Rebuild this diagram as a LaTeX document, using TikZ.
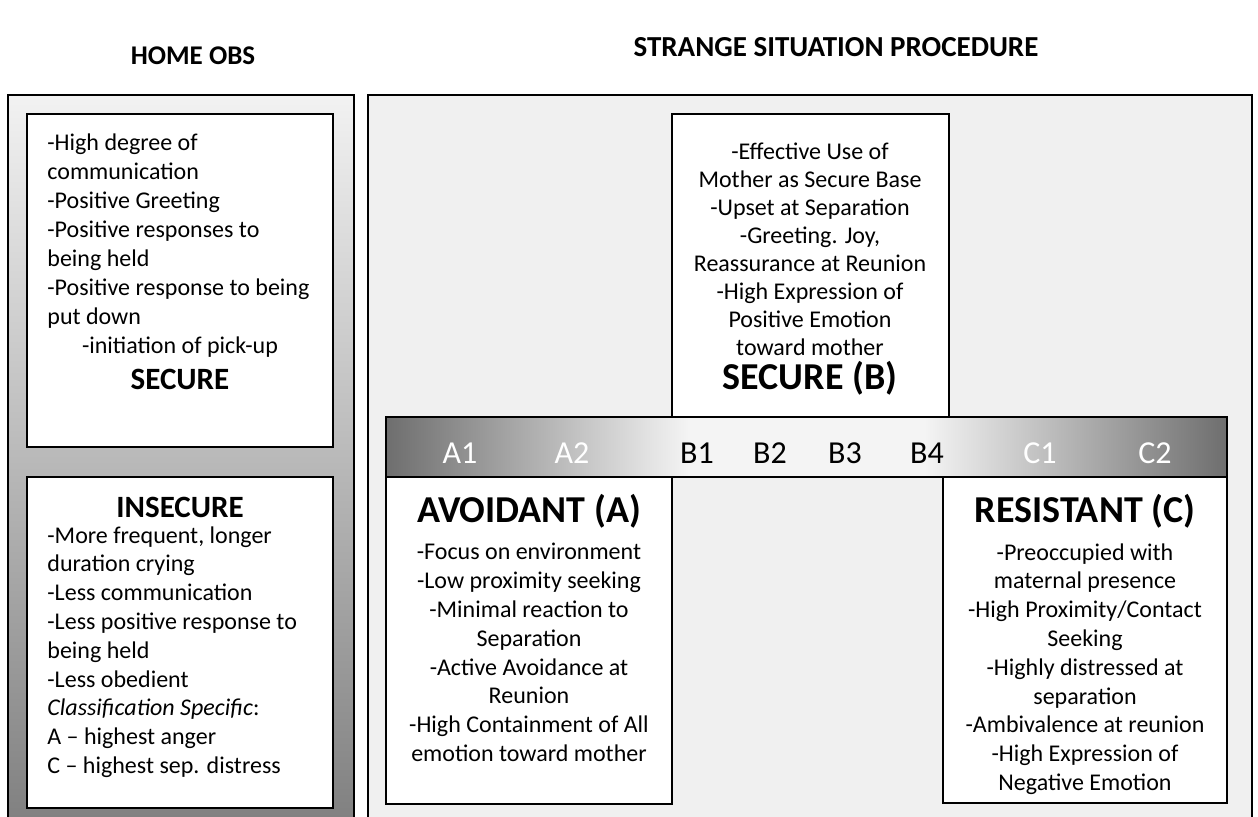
\documentclass[tikz,border=0pt]{standalone}
\usepackage{fontspec}
\setmainfont{Carlito}
\usepackage{xcolor}
\usetikzlibrary{positioning}
\definecolor{panelgray}{HTML}{F0F0F0}
\definecolor{shadetop}{HTML}{F2F2F2}
\definecolor{shadebot}{HTML}{7F7F7F}
\definecolor{bardark}{HTML}{6E6E6E}
\definecolor{barlight}{HTML}{F4F4F4}
\pgfdeclarehorizontalshading{barshade}{100bp}{color(0bp)=(bardark); color(25bp)=(bardark); color(43bp)=(barlight); color(57bp)=(barlight); color(75bp)=(bardark); color(100bp)=(bardark)}

\begin{document}
\begin{tikzpicture}[x=0.5pt, y=-0.5pt,
    edge/.style={line width=0.9pt},
    head/.style={font=\fontsize{13.5}{16}\selectfont\bfseries, inner sep=0pt},
    body/.style={font=\fontsize{12}{14.4}\selectfont, inner sep=0pt},
    title/.style={font=\fontsize{19}{22}\selectfont\bfseries, inner sep=0pt},
    subtitle/.style={font=\fontsize{15.5}{18}\selectfont\bfseries, inner sep=0pt},
    barlabel/.style={font=\fontsize{16}{18}\selectfont, inner sep=0pt}]
    \useasboundingbox (0,0) rectangle (1258,817);
    \clip (0,0) rectangle (1258,817);
    % 1. Headings
    \node[head, anchor=base] (homeobs) at (193,65) {HOME OBS};
    \node[head, anchor=base, font=\fontsize{14.5}{16}\selectfont\bfseries] (ssp) at (836,57)
        {STRANGE SITUATION PROCEDURE};

    % 2. Panels
    \shade[top color=shadetop, bottom color=shadebot] (8,95) rectangle (354,830);
    \draw[edge] (8,830) -- (8,95) -- (354,95) -- (354,830);
    \fill[panelgray] (368,95) rectangle (1252,830);
    \draw[edge] (368,830) -- (368,95) -- (1252,95) -- (1252,830);

    % 3. Boxes
    \draw[edge, fill=white] (27,114) rectangle (333,447);
    \draw[edge, fill=white] (27,477) rectangle (333,808);
    \draw[edge, fill=white] (672,114) rectangle (949,417);
    \draw[edge, fill=white] (386,477) rectangle (672,804);
    \draw[edge, fill=white] (943,477) rectangle (1227,803);

    % 4. Scale bar
    \shade[shading=barshade] (386,417) rectangle (1227,477);
    \draw[edge] (386,417) rectangle (1227,477);
    \foreach \lab/\xx/\col in {A1/460/white, A2/572/white, B1/697/black, B2/770/black,
        B3/845/black, B4/927/black, C1/1040/white, C2/1155/white}
        \node[barlabel, text=\col, anchor=base] (bar\lab) at (\xx,464) {\lab};

    % 5. Home observation texts
    \node[body, align=left, anchor=north west, font=\fontsize{12}{14.5}\selectfont] (homesec) at (47,133)
        {-High degree of\\communication\\-Positive Greeting\\-Positive responses to\\
         being held\\-Positive response to being\\put down};
    \node[body, anchor=base] (pickup) at (180,354) {-initiation of pick-up};
    \node[subtitle, anchor=base] (secure) at (180,390) {SECURE};
    \node[subtitle, anchor=base] (insecure) at (180,518) {INSECURE};
    \node[body, align=left, anchor=north west] (homeinsec) at (47,526)
        {-More frequent, longer\\duration crying\\-Less communication\\
         -Less positive response to\\being held\\-Less obedient\\
         \textit{Classification Specific}:\\A -- highest anger\\C -- highest sep. distress};

    % 6. Strange situation texts
    \node[body, align=center, anchor=north, font=\fontsize{12}{14}\selectfont] (securetxt) at (810,143)
        {-Effective Use of\\Mother as Secure Base\\-Upset at Separation\\-Greeting. Joy,\\
         Reassurance at Reunion\\-High Expression of\\Positive Emotion\\toward mother};
    \node[title, anchor=base] (secureB) at (810,390) {SECURE (B)};
    \node[title, anchor=base] (avoidA) at (529,523) {AVOIDANT (A)};
    \node[body, align=center, anchor=north] (avoidtxt) at (529,543)
        {-Focus on environment\\-Low proximity seeking\\-Minimal reaction to\\Separation\\
         -Active Avoidance at\\Reunion\\-High Containment of All\\emotion toward mother};
    \node[title, anchor=base] (resistC) at (1085,523) {RESISTANT (C)};
    \begin{scope}
        \clip (943,477) rectangle (1227,795);
        \node[body, align=center, anchor=north] (resisttxt) at (1085,543)
            {-Preoccupied with\\maternal presence\\-High Proximity/Contact\\Seeking\\
             -Highly distressed at\\separation\\-Ambivalence at reunion\\
             -High Expression of\\Negative Emotion};
    \end{scope}
\end{tikzpicture}
\end{document}
